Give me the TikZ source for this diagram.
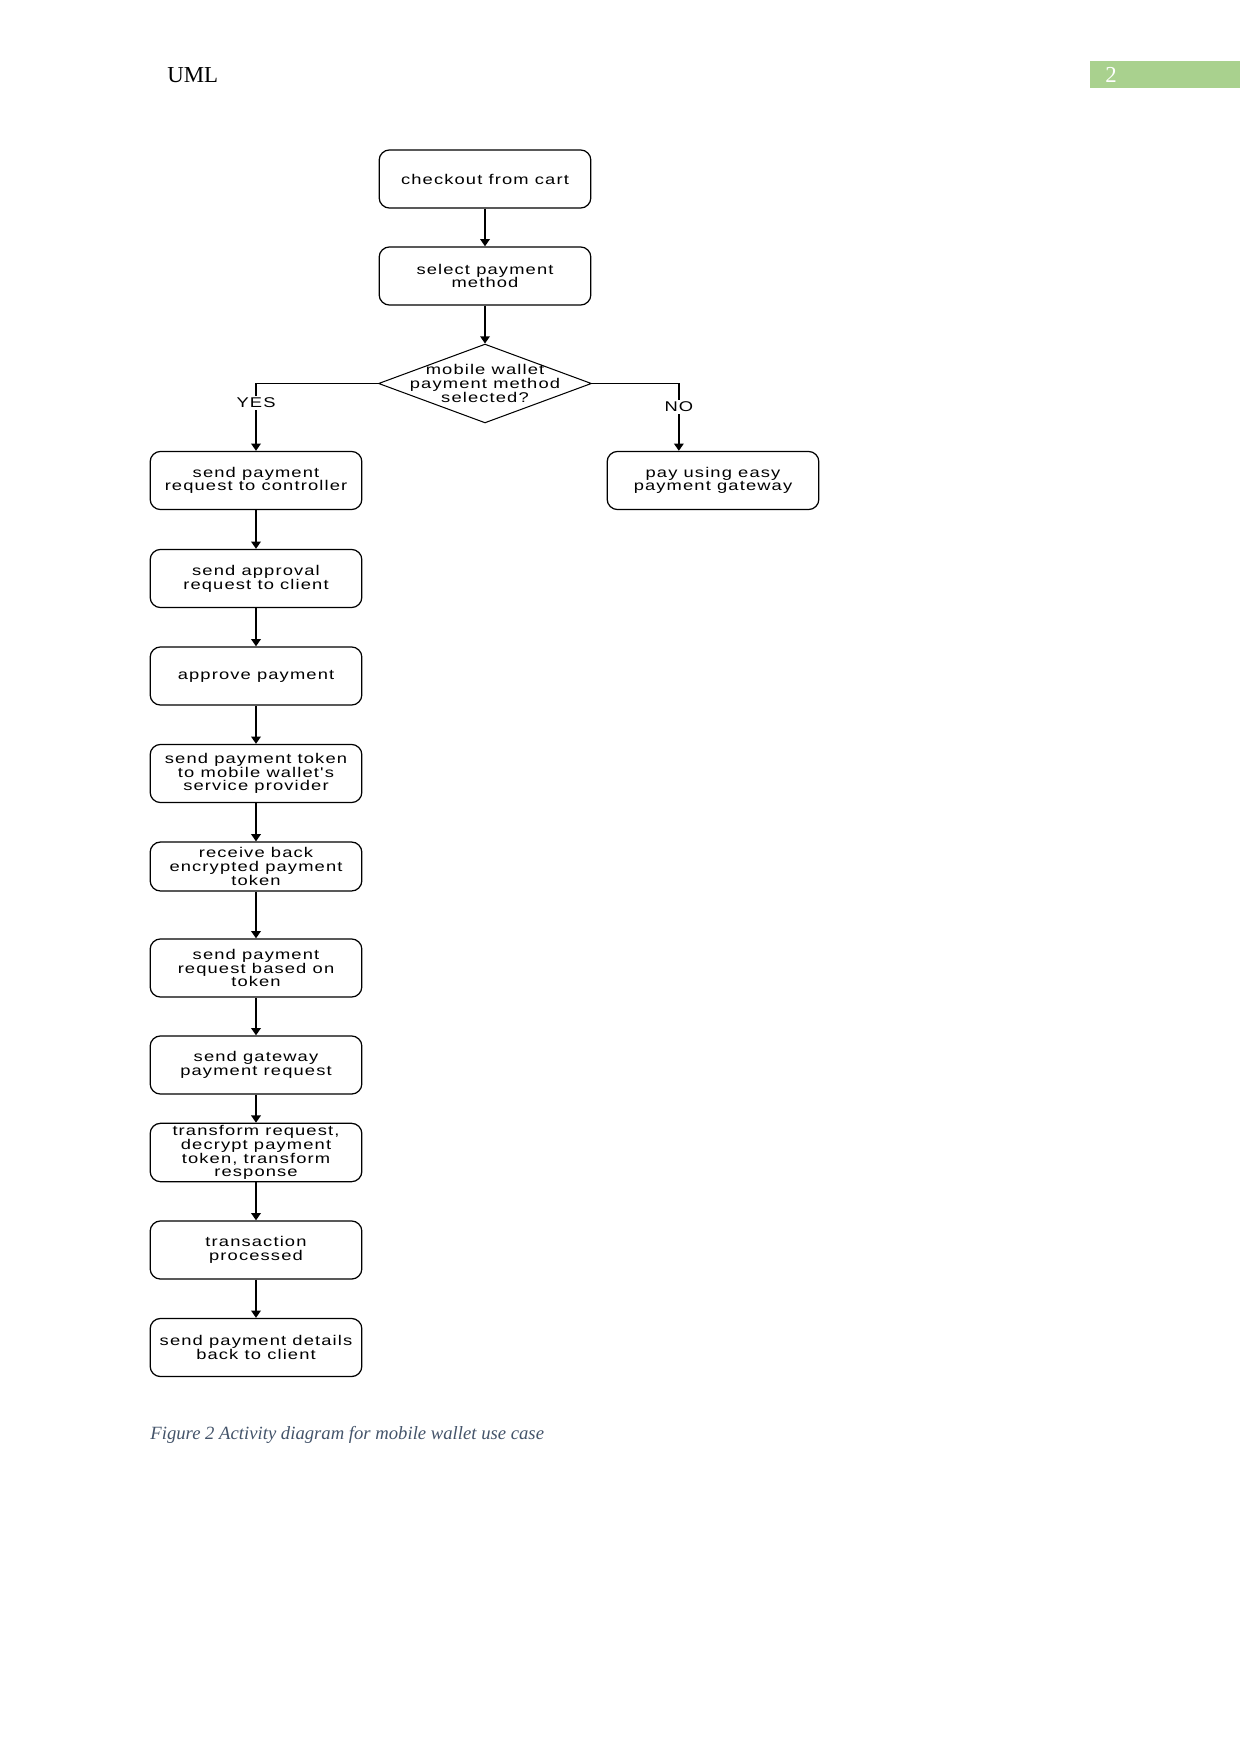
\documentclass[tikz,border=0pt]{standalone}
\usepackage{fontspec}
\setmainfont{Liberation Serif}
\newfontfamily\flowfont{Liberation Sans}[FakeStretch=1.3, LetterSpace=8]
\usetikzlibrary{shapes.geometric, arrows.meta, positioning}
\usepackage{xcolor}
\definecolor{headgreen}{HTML}{A9D18E}
\definecolor{captiongray}{HTML}{44546A}
\tikzset{
  act/.style={
    rectangle, rounded corners=5pt, draw=black, line width=0.6pt,
    minimum width=102pt, minimum height=28pt, align=center,
    inner sep=1pt, font=\flowfont\fontsize{6.8}{6.6}\selectfont
  },
  decision/.style={
    diamond, draw=black, line width=0.5pt, inner sep=0pt,
    minimum width=102.6pt, minimum height=38pt
  },
  flow/.style={-{Triangle[length=3.5pt,width=4.6pt]}, line width=0.8pt},
  guard/.style={
    fill=white, inner sep=1pt, font=\flowfont\fontsize{6.8}{6.6}\selectfont
  }
}

\begin{document}
\begin{tikzpicture}[x=0.4818pt, y=-0.4818pt]
  \useasboundingbox (0,0) rectangle (1241,1754);
  % Header
  \node[anchor=base west, inner sep=0pt, font=\fontsize{11}{13}\selectfont]
    (title) at (167,83) {UML};
  \fill[headgreen] (1090,61) rectangle (1240,88);
  \node[anchor=base west, inner sep=0pt, text=white,
    font=\fontsize{11}{13}\selectfont] (pagenum) at (1105,83) {2};
  % Start
  \node[act] (cart) at (485,179) {checkout from cart};
  \node[act] (sel) at (485,276) {select payment\\method};
  \node[decision, label={[align=center, font=\flowfont\fontsize{6.8}{6.6}\selectfont]
    center:{mobile wallet\\payment method\\selected?}}] (dec) at (485,383.5) {};
  % NO branch
  \node[act] (pay) at (713,480.5) {pay using easy\\payment gateway};
  % YES branch
  \node[act] (s1) at (256,480.5) {send payment\\request to controller};
  \node[act] (s2) at (256,578.5) {send approval\\request to client};
  \node[act] (s3) at (256,676) {approve payment};
  \node[act] (s4) at (256,773.5) {send payment token\\to mobile wallet's\\service provider};
  \node[act, minimum height=23.6pt] (s5) at (256,866.5)
    {receive back\\encrypted payment\\token};
  \node[act] (s6) at (256,968) {send payment\\request based on\\token};
  \node[act] (s7) at (256,1065) {send gateway\\payment request};
  \node[act] (s8) at (256,1152.5)
    {transform request,\\decrypt payment\\token, transform\\response};
  \node[act] (s9) at (256,1250) {transaction\\processed};
  \node[act] (s10) at (256,1347.5) {send payment details\\back to client};
  % Connectors
  \draw[flow] (cart) -- (sel);
  \draw[flow] (sel) -- (dec);
  \draw[flow] (dec.west) -| node[guard, pos=0.645] {YES} (s1.north);
  \draw[flow] (dec.east) -| node[guard, pos=0.674] {NO} (pay.139);
  \foreach \a/\b in {s1/s2, s2/s3, s3/s4, s4/s5, s5/s6, s6/s7, s7/s8, s8/s9, s9/s10}
    \draw[flow] (\a) -- (\b);
  % Caption
  \node[anchor=base west, inner sep=0pt, text=captiongray,
    font=\itshape\fontsize{9}{11}\selectfont] (caption) at (150,1439)
    {Figure 2 Activity diagram for mobile wallet use case};
\end{tikzpicture}
\end{document}
